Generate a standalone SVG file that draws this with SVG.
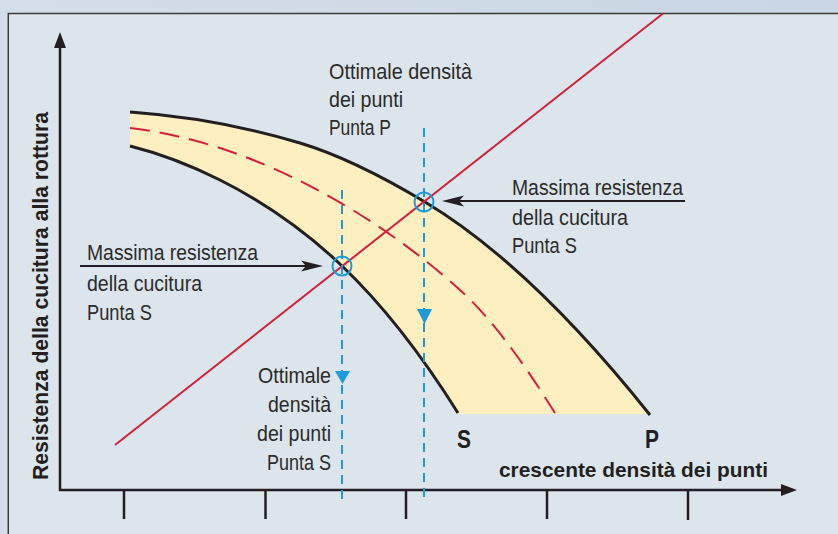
<svg xmlns="http://www.w3.org/2000/svg" width="838" height="534" viewBox="0 0 838 534">
<defs>
<linearGradient id="bg" x1="0" y1="0" x2="1" y2="0">
<stop offset="0" stop-color="#d4dee8"/>
<stop offset="1" stop-color="#c9d6e3"/>
</linearGradient>
<style>
.lbl{font-family:"Liberation Sans",Arial,sans-serif;font-size:22.5px;fill:#2b2b2b;}
.bold{font-family:"Liberation Sans",Arial,sans-serif;font-weight:bold;fill:#231f20;}
.axis{stroke:#231f20;stroke-width:2.5;fill:none;}
.curve{stroke:#231f20;stroke-width:3;fill:none;}
.red{stroke:#d2203c;stroke-width:2;fill:none;}
.blue{stroke:#1d9ad8;stroke-width:2;fill:none;}
.bdash{stroke:#1d9ad8;stroke-width:2;fill:none;stroke-dasharray:9 6;}
.arrow{stroke:#231f20;stroke-width:1.8;fill:none;}
</style>
</defs>
<rect x="0" y="0" width="838" height="534" fill="url(#bg)"/>
<rect x="8.3" y="13.5" width="840" height="530" fill="#dce5ec" stroke="#3c3c3c" stroke-width="1.5"/>

<g id="band">
<path d="M130,112 C186.7,116 243.3,126 300,143 C341.7,155.5 383.3,177 425,202 C500,247 575,321 650,414 L458,414 C419,350.6 380,302 341,265 C300.7,226.7 260.3,200.2 220,180 C190,165 160,153.5 130,146 Z" fill="#fdefbf" stroke="none"/>
<path class="curve" d="M130,112 C186.7,116 243.3,126 300,143 C341.7,155.5 383.3,177 425,202 C500,247 575,321 650,415"/>
<path class="curve" d="M130,146 C160,153.5 190,165 220,180 C260.3,200.2 300.7,226.7 341,265 C380,302 419,350.6 458,413"/>
<path class="red" stroke-dasharray="20 10" d="M130,128 C186.7,134.8 243.3,152.7 300,181 C353.3,207.7 406.7,242 460,290 C491.7,318.5 523.3,362.3 555,413"/>
</g>

<g id="axes">
<line class="axis" x1="60" y1="491" x2="60" y2="46"/>
<polygon points="60,32 54,48 66,48" fill="#231f20"/>
<line class="axis" x1="59" y1="490" x2="783" y2="490"/>
<polygon points="797,490 781,484 781,496" fill="#231f20"/>
<line class="axis" x1="124" y1="490" x2="124" y2="519"/>
<line class="axis" x1="265.5" y1="490" x2="265.5" y2="519"/>
<line class="axis" x1="406" y1="490" x2="406" y2="519"/>
<line class="axis" x1="547" y1="490" x2="547" y2="519"/>
<line class="axis" x1="688" y1="490" x2="688" y2="520"/>
<text class="bold" font-size="22" transform="translate(47.5,480) rotate(-90)" textLength="368" lengthAdjust="spacingAndGlyphs">Resistenza della cucitura alla rottura</text>
<text class="bold" font-size="21" x="499" y="477" textLength="269" lengthAdjust="spacingAndGlyphs">crescente densità dei punti</text>
</g>

<g id="connectors">
<line class="red" x1="115" y1="445" x2="663" y2="13.5"/>
<line class="bdash" x1="342" y1="190" x2="342" y2="500"/>
<line class="bdash" x1="424" y1="128" x2="424" y2="503"/>
<polygon points="335,371 350,371 342.5,384" fill="#1d9ad8"/>
<polygon points="417,309 432,309 424.5,324" fill="#1d9ad8"/>
<line class="arrow" x1="80" y1="266" x2="310" y2="266"/>
<path d="M323,266 L301,260.5 L306,266 L301,271.5 Z" fill="#231f20"/>
<line class="arrow" x1="685" y1="201" x2="456" y2="201"/>
<path d="M442,201 L464,195.5 L459,201 L464,206.5 Z" fill="#231f20"/>
</g>

<g id="point-s">
<circle class="blue" cx="342" cy="266" r="9.5"/>
</g>
<g id="point-p">
<circle class="blue" cx="424" cy="202" r="9.5"/>
</g>

<g id="label-s-end">
<text class="bold" font-size="25" x="457" y="448" textLength="14" lengthAdjust="spacingAndGlyphs">S</text>
</g>
<g id="label-p-end">
<text class="bold" font-size="25" x="645" y="448" textLength="14" lengthAdjust="spacingAndGlyphs">P</text>
</g>

<g id="label-top">
<text class="lbl" x="329" y="79" textLength="143" lengthAdjust="spacingAndGlyphs">Ottimale densità</text>
<text class="lbl" x="329" y="107" textLength="74" lengthAdjust="spacingAndGlyphs">dei punti</text>
<text class="lbl" x="329" y="135" textLength="62" lengthAdjust="spacingAndGlyphs">Punta P</text>
</g>

<g id="label-right">
<text class="lbl" x="512" y="195" textLength="171" lengthAdjust="spacingAndGlyphs">Massima resistenza</text>
<text class="lbl" x="512" y="225" textLength="116" lengthAdjust="spacingAndGlyphs">della cucitura</text>
<text class="lbl" x="512" y="253" textLength="65" lengthAdjust="spacingAndGlyphs">Punta S</text>
</g>

<g id="label-left">
<text class="lbl" x="87" y="260" textLength="171" lengthAdjust="spacingAndGlyphs">Massima resistenza</text>
<text class="lbl" x="87" y="291" textLength="115" lengthAdjust="spacingAndGlyphs">della cucitura</text>
<text class="lbl" x="87" y="320" textLength="65" lengthAdjust="spacingAndGlyphs">Punta S</text>
</g>

<g id="label-bottom">
<text class="lbl" x="258" y="383" textLength="73" lengthAdjust="spacingAndGlyphs">Ottimale</text>
<text class="lbl" x="268" y="412" textLength="63" lengthAdjust="spacingAndGlyphs">densità</text>
<text class="lbl" x="257" y="441" textLength="74" lengthAdjust="spacingAndGlyphs">dei punti</text>
<text class="lbl" x="267" y="470" textLength="64" lengthAdjust="spacingAndGlyphs">Punta S</text>
</g>
</svg>
